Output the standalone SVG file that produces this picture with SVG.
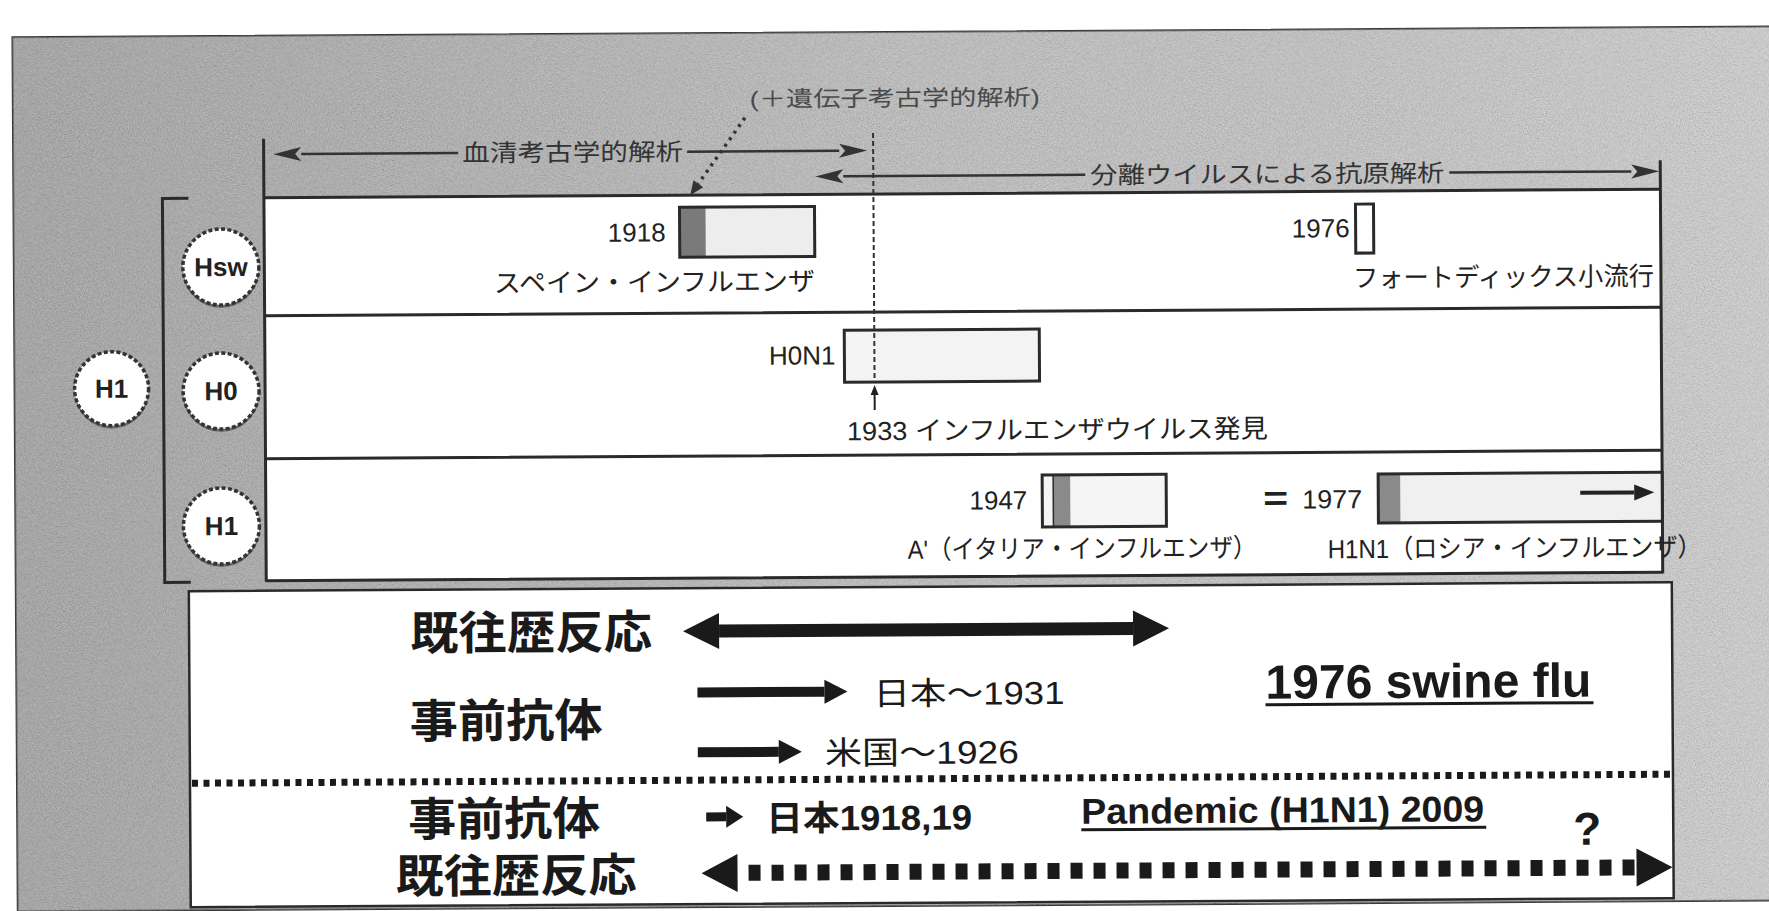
<svg xmlns="http://www.w3.org/2000/svg" width="1769" height="911" viewBox="0 0 1769 911">
<defs>
<style>
.f{font-family:'Liberation Sans','Noto Sans CJK JP',sans-serif;}
.t{font-size:26px;fill:#222;}
.tl{font-size:24px;fill:#333;}
.tg{font-size:22px;fill:#4a4a4a;}
.b{font-size:46px;font-weight:bold;fill:#1a1a1a;}
.m{font-size:32px;fill:#1a1a1a;}
.ct{font-size:26px;font-weight:bold;fill:#222;text-anchor:middle;}
.ln{stroke:#2a2a2a;stroke-width:3;fill:none;}
.box{stroke:#2a2a2a;stroke-width:3;fill:none;}
.thin{stroke:#333;stroke-width:2.5;fill:none;}
.node{fill:#fff;stroke:#333;stroke-width:3.5;stroke-dasharray:4 2.4;}
.shadow{fill:#3a3a3a;opacity:0.55;}
.ul{stroke:#1a1a1a;stroke-width:3;}
</style>
<linearGradient id="bg" x1="0" y1="0" x2="1" y2="0">
<stop offset="0" stop-color="#969696"/>
<stop offset="0.3" stop-color="#ababab"/>
<stop offset="0.5" stop-color="#bababa"/>
<stop offset="0.75" stop-color="#c2c2c2"/>
<stop offset="1" stop-color="#d2d2d2"/>
</linearGradient>
<filter id="grain" x="0" y="0" width="1" height="1">
<feTurbulence type="fractalNoise" baseFrequency="0.75" numOctaves="2" seed="7"/>
<feColorMatrix type="matrix" values="1 0 0 0 0  1 0 0 0 0  1 0 0 0 0  0 0 0 0 0.4"/>
</filter>
<marker id="mThin" markerUnits="userSpaceOnUse" markerWidth="30" markerHeight="16" refX="0" refY="0" orient="auto-start-reverse" overflow="visible"><path d="M0,-7 L28,0 L0,7 L6,0 z" fill="#333"/></marker>
<marker id="mBig" markerUnits="userSpaceOnUse" markerWidth="40" markerHeight="40" refX="0" refY="0" orient="auto-start-reverse" overflow="visible"><path d="M0,-18 L36,0 L0,18 z" fill="#1a1a1a"/></marker>
<marker id="mMed" markerUnits="userSpaceOnUse" markerWidth="26" markerHeight="26" refX="0" refY="0" orient="auto-start-reverse" overflow="visible"><path d="M0,-12 L23,0 L0,12 z" fill="#1a1a1a"/></marker>
<marker id="mSmall" markerUnits="userSpaceOnUse" markerWidth="20" markerHeight="24" refX="0" refY="0" orient="auto-start-reverse" overflow="visible"><path d="M0,-11 L17,0 L0,11 z" fill="#1a1a1a"/></marker>
<marker id="mDash" markerUnits="userSpaceOnUse" markerWidth="40" markerHeight="40" refX="0" refY="0" orient="auto-start-reverse" overflow="visible"><path d="M0,-19 L36,0 L0,19 z" fill="#1a1a1a"/></marker>
<marker id="mInner" markerUnits="userSpaceOnUse" markerWidth="22" markerHeight="18" refX="0" refY="0" orient="auto" overflow="visible"><path d="M0,-8 L20,0 L0,8 z" fill="#222"/></marker>
<marker id="mUp" markerUnits="userSpaceOnUse" markerWidth="12" markerHeight="10" refX="0" refY="0" orient="auto" overflow="visible"><path d="M0,-4 L10,0 L0,4 z" fill="#222"/></marker>
<marker id="mDot" markerUnits="userSpaceOnUse" markerWidth="16" markerHeight="14" refX="0" refY="0" orient="auto" overflow="visible"><path d="M0,-6 L14,0 L0,6 z" fill="#333"/></marker>
</defs>
<rect x="0" y="0" width="1769" height="911" fill="#ffffff"/>
<g transform="rotate(-0.35 885 455)">
<g id="background">
<rect x="15" y="32" width="1780" height="874" fill="url(#bg)" stroke="#3a3a3a" stroke-width="2"/>
<rect x="15" y="32" width="1780" height="874" filter="url(#grain)"/>
</g>
<g id="timeline-panel">
<rect x="265" y="194" width="1397" height="383" fill="#ffffff"/>
<path class="ln" d="M265 194 H1662 M265 312 H1662 M265 455 H1662 M265 577 H1662"/>
<path class="ln" d="M265.5 135 V578 M1662 165 V578"/>
<path class="ln" d="M190 194 H164 V578 H190"/>
</g>
<g id="node-h1-root"><circle class="shadow" cx="112" cy="387" r="37"/><circle class="node" cx="112" cy="384" r="37"/><text class="f ct" x="112" y="393">H1</text></g>
<g id="node-hsw"><circle class="shadow" cx="222" cy="266" r="38"/><circle class="node" cx="222" cy="263" r="38"/><text class="f ct" x="222" y="272">Hsw</text></g>
<g id="node-h0"><circle class="shadow" cx="221.5" cy="390" r="38"/><circle class="node" cx="221.5" cy="387" r="38"/><text class="f ct" x="221.5" y="396">H0</text></g>
<g id="node-h1"><circle class="shadow" cx="221" cy="525" r="38"/><circle class="node" cx="221" cy="522" r="38"/><text class="f ct" x="221" y="531">H1</text></g>
<g id="box-1918">
<rect x="681" y="206" width="135" height="50" fill="#ededed"/>
<rect x="681" y="206" width="26" height="50" fill="#7a7a7a"/>
<rect class="box" x="681" y="206" width="135" height="50"/>
<text class="f t" x="667" y="240" text-anchor="end">1918</text>
<text class="f t" x="495" y="290" textLength="321" lengthAdjust="spacingAndGlyphs">スペイン・インフルエンザ</text>
</g>
<g id="box-1976">
<rect class="box" x="1357" y="207" width="18" height="49" fill="#ffffff"/>
<text class="f t" x="1351" y="240" text-anchor="end">1976</text>
<text class="f t" x="1354" y="290" textLength="301" lengthAdjust="spacingAndGlyphs">フォートディックス小流行</text>
</g>
<g id="box-h0n1">
<rect x="845" y="330" width="195" height="52" fill="#f3f3f3"/>
<rect class="box" x="845" y="330" width="195" height="52" stroke-width="4"/>
<text class="f t" x="836" y="364" text-anchor="end">H0N1</text>
<text class="f t" x="847" y="440" textLength="421" lengthAdjust="spacingAndGlyphs">1933 インフルエンザウイルス発見</text>
</g>
<g id="box-1947">
<rect x="1042" y="476" width="124" height="52" fill="#f5f5f5"/>
<rect x="1053" y="476" width="17" height="52" fill="#8a8a8a"/>
<line x1="1053" y1="476" x2="1053" y2="528" stroke="#2a2a2a" stroke-width="1.5"/>
<rect class="box" x="1042" y="476" width="124" height="52"/>
<text class="f t" x="1027" y="510" text-anchor="end">1947</text>
<text class="f t" x="907" y="559" textLength="349" lengthAdjust="spacingAndGlyphs">A'（イタリア・インフルエンザ）</text>
</g>
<g id="box-1977">
<rect x="1378" y="477" width="284" height="49" fill="#f0f0f0"/>
<rect x="1378" y="477" width="22" height="49" fill="#8a8a8a"/>
<rect class="box" x="1378" y="477" width="284" height="49"/>
<text class="f" x="1263" y="512" font-size="34" font-weight="bold" fill="#222" textLength="25" lengthAdjust="spacingAndGlyphs">=</text>
<text class="f t" x="1302" y="511" textLength="60" lengthAdjust="spacingAndGlyphs">1977</text>
<text class="f t" x="1327" y="561" textLength="374" lengthAdjust="spacingAndGlyphs">H1N1（ロシア・インフルエンザ）</text>
</g>
<g id="top-labels">
<text class="f tl" x="464" y="159" textLength="221" lengthAdjust="spacingAndGlyphs">血清考古学的解析</text>
<text class="f tl" x="1092" y="185" textLength="354" lengthAdjust="spacingAndGlyphs">分離ウイルスによる抗原解析</text>
<text class="f tg" x="752" y="106" textLength="290" lengthAdjust="spacingAndGlyphs">(＋遺伝子考古学的解析)</text>
</g>
<g id="bottom-panel">
<rect x="188" y="587" width="1483" height="316" fill="#ffffff" stroke="#2a2a2a" stroke-width="2.5"/>
<line x1="190" y1="779" x2="1670" y2="779" stroke="#1a1a1a" stroke-width="7" stroke-dasharray="6 5.5"/>
<text class="f b" x="409" y="647" textLength="242" lengthAdjust="spacingAndGlyphs">既往歴反応</text>
<text class="f b" x="408" y="735" textLength="193" lengthAdjust="spacingAndGlyphs">事前抗体</text>
<text class="f m" x="872" y="705" textLength="191" lengthAdjust="spacingAndGlyphs">日本～1931</text>
<text class="f m" x="823" y="764" textLength="194" lengthAdjust="spacingAndGlyphs">米国～1926</text>
<text class="f" x="1264" y="701" font-size="48" font-weight="bold" fill="#1a1a1a" textLength="326" lengthAdjust="spacingAndGlyphs">1976 swine flu</text>
<line class="ul" x1="1264" y1="707" x2="1592" y2="707"/>
<text class="f b" x="406" y="833" textLength="192" lengthAdjust="spacingAndGlyphs">事前抗体</text>
<text class="f" x="764" y="830" font-size="35" font-weight="bold" fill="#1a1a1a" textLength="206" lengthAdjust="spacingAndGlyphs">日本1918,19</text>
<text class="f" x="1079" y="825" font-size="36" font-weight="bold" fill="#1a1a1a" textLength="403" lengthAdjust="spacingAndGlyphs">Pandemic (H1N1) 2009</text>
<line class="ul" x1="1079" y1="831" x2="1484" y2="831"/>
<text class="f" x="1585" y="849" font-size="46" font-weight="bold" fill="#1a1a1a" text-anchor="middle">?</text>
<text class="f b" x="393" y="890" textLength="241" lengthAdjust="spacingAndGlyphs">既往歴反応</text>
</g>
<g id="connectors">
<path class="thin" d="M303 150.5 H460" marker-start="url(#mThin)"/>
<path class="thin" d="M689 150.5 H841" marker-end="url(#mThin)"/>
<path class="thin" d="M845 176 H1087" marker-start="url(#mThin)"/>
<path class="thin" d="M1451 176 H1633" marker-end="url(#mThin)"/>
<path d="M875 133 V382" stroke="#333" stroke-width="2" stroke-dasharray="5 3" fill="none"/>
<path d="M875 410 V395" stroke="#222" stroke-width="2" fill="none" marker-end="url(#mUp)"/>
<path d="M747 117 L700 182.6" stroke="#333" stroke-width="3.5" stroke-dasharray="3 5" fill="none" marker-end="url(#mDot)"/>
<path d="M1580 497 H1634" stroke="#222" stroke-width="4" fill="none" marker-end="url(#mInner)"/>
<path d="M718 630 H1132" stroke="#1a1a1a" stroke-width="13" fill="none" marker-start="url(#mBig)" marker-end="url(#mBig)"/>
<path d="M696 691.3 H823" stroke="#1a1a1a" stroke-width="10" fill="none" marker-end="url(#mMed)"/>
<path d="M696 751.2 H777" stroke="#1a1a1a" stroke-width="10" fill="none" marker-end="url(#mMed)"/>
<path d="M704 815.8 H724" stroke="#1a1a1a" stroke-width="9" fill="none" marker-end="url(#mSmall)"/>
<path d="M735 872 H1634" stroke="#1a1a1a" stroke-width="16" stroke-dasharray="12 11" stroke-dashoffset="12" fill="none" marker-start="url(#mDash)" marker-end="url(#mDash)"/>
</g>
</g>
</svg>
